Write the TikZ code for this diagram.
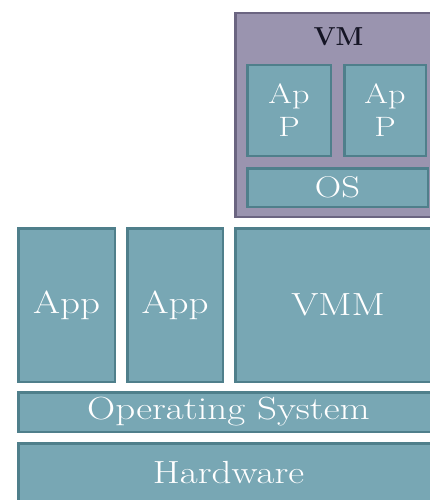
\documentclass[tikz,border=0pt]{standalone}
\usepackage{fontspec}
\usepackage{graphicx}
\definecolor{tealfill}{HTML}{78A7B4}
\definecolor{tealline}{HTML}{4F7F8B}
\definecolor{vmfill}{HTML}{9A94AF}
\definecolor{vmline}{HTML}{6B6581}
\definecolor{vmtext}{HTML}{151525}
\newcommand\wtxt[1]{\scalebox{1.22}[1]{#1}}
\tikzset{
  tealbox/.style={draw=tealline, fill=tealfill, line width=2.5pt, inner sep=0pt, outer sep=0pt,
    text=white, font=\fontsize{32}{36}\selectfont, align=center},
  vmbox/.style={draw=vmline, fill=vmfill, line width=2.5pt, inner sep=0pt, outer sep=0pt},
  vmlabel/.style={text=vmtext, font=\fontsize{26}{30}\selectfont\bfseries}
}
\begin{document}
\begin{tikzpicture}[x=1pt,y=-1pt]
\useasboundingbox (0,0) rectangle (429,500);
% VM
\node[vmbox, minimum width=206.5, minimum height=203.5] (vm) at (338.5,115) {};
\node[vmlabel] (vml) at (338.5,37) {VM};
\node[tealbox, minimum width=83.5, minimum height=90.5, font=\fontsize{28}{33}\selectfont] (vapp1) at (289,110.5) {\wtxt{Ap}\\\wtxt{P}};
\node[tealbox, minimum width=81.5, minimum height=90.5, font=\fontsize{28}{33}\selectfont] (vapp2) at (385,110.5) {\wtxt{Ap}\\\wtxt{P}};
\node[tealbox, minimum width=180.5, minimum height=38.5, font=\fontsize{30}{34}\selectfont] (vos) at (337.5,187.5) {\wtxt{OS}};
% host layer
\node[tealbox, minimum width=96.5, minimum height=153.5] (app1) at (66.5,305) {\wtxt{App}};
\node[tealbox, minimum width=95.5, minimum height=153.5] (app2) at (175,305) {\wtxt{App}};
\node[tealbox, minimum width=205.5, minimum height=153.5] (vmm) at (338,305) {\wtxt{VMM}};
\node[tealbox, minimum width=420.5, minimum height=39.5] (os) at (228.5,412) {\wtxt{Operating System}};
\node[tealbox, minimum width=420.5, minimum height=59.5] (hw) at (228.5,473) {\wtxt{Hardware}};
\end{tikzpicture}
\end{document}
